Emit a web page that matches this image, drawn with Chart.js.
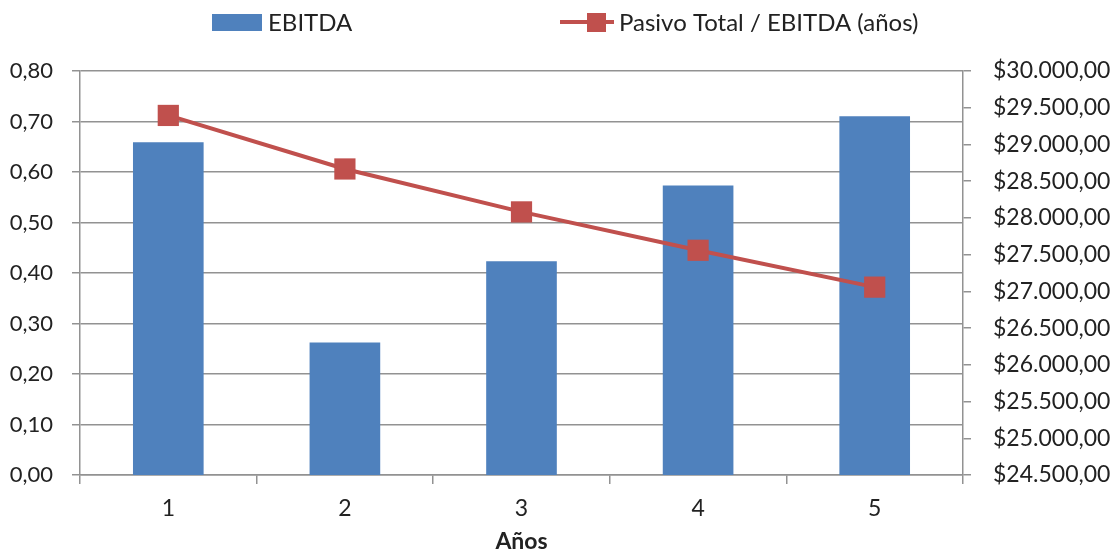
<!DOCTYPE html>
<html>
<head>
    <meta charset="utf-8">
    <title>EBITDA y Pasivo Total / EBITDA</title>
    <style>
        body {
            margin: 0;
            background: #fff;
        }
        #chart {
            display: block;
        }
    </style>
</head>
<body>
    <canvas id="chart" width="1119" height="552"></canvas>
    <script src="https://cdn.jsdelivr.net/npm/chart.js"></script>
    <script>
        // Data
        const years = ['1', '2', '3', '4', '5'];
        const ebitda = [29030, 26305, 27410, 28440, 29385];
        const pasivoSobreEbitda = [0.712, 0.606, 0.521, 0.445, 0.372];

        // Axis ranges: [min, max, step]
        const ratioAxis = [0, 0.8, 0.1];
        const moneyAxis = [24500, 30000, 500];

        const gridColor = '#929292';
        const textColor = '#222';
        const fontFamily = 'Lato, "Open Sans", sans-serif';

        function ratioLabel(v) {
            return v.toFixed(2).replace('.', ',');
        }

        function moneyLabel(v) {
            const parts = v.toFixed(2).split('.');
            return '$' + parts[0].replace(/\B(?=(\d{3})+(?!\d))/g, '.') + ',' + parts[1];
        }

        // legend on top: bar swatch and line+marker swatch
        const topLegend = {
            id: 'topLegend',
            afterDraw(chart) {
                const ctx = chart.ctx;
                const bar = chart.data.datasets[0];
                const line = chart.data.datasets[1];
                ctx.save();
                ctx.font = '24px ' + fontFamily;
                ctx.textBaseline = 'middle';

                ctx.fillStyle = bar.backgroundColor;
                ctx.fillRect(212, 14, 50, 17);
                ctx.fillStyle = textColor;
                ctx.fillText(bar.label, 268, 23);

                ctx.strokeStyle = line.borderColor;
                ctx.lineWidth = 4;
                ctx.beginPath();
                ctx.moveTo(560, 22);
                ctx.lineTo(614, 22);
                ctx.stroke();
                ctx.fillStyle = line.borderColor;
                ctx.fillRect(587, 13, 19, 19);
                ctx.fillStyle = textColor;
                ctx.fillText(line.label, 619, 23);
                ctx.restore();
            }
        };

        const ctx = document.getElementById('chart').getContext('2d');
        const chart = new Chart(ctx, {
            type: 'bar',
            data: {
                labels: years,
                datasets: [{
                    type: 'bar',
                    label: 'EBITDA',
                    data: ebitda,
                    yAxisID: 'y1',
                    backgroundColor: '#4F81BD',
                    barPercentage: 0.4,
                    categoryPercentage: 1,
                    order: 1
                }, {
                    type: 'line',
                    label: 'Pasivo Total / EBITDA (años)',
                    data: pasivoSobreEbitda,
                    yAxisID: 'y',
                    borderColor: '#C0504D',
                    backgroundColor: '#C0504D',
                    borderWidth: 4,
                    pointStyle: 'rect',
                    pointRadius: 15,
                    pointHoverRadius: 15,
                    pointBorderWidth: 0,
                    tension: 0,
                    order: 0
                }]
            },
            options: {
                responsive: false,
                animation: false,
                layout: {
                    padding: { top: 71, left: 0, right: 0, bottom: 0 }
                },
                plugins: {
                    legend: { display: false },
                    tooltip: { enabled: false }
                },
                scales: {
                    x: {
                        offset: true,
                        grid: {
                            offset: true,
                            drawOnChartArea: false,
                            tickLength: 9,
                            color: gridColor,
                            lineWidth: 1.5
                        },
                        border: { color: gridColor, width: 1.5 },
                        ticks: {
                            color: textColor,
                            font: { family: fontFamily, size: 23 },
                            padding: 11
                        },
                        title: {
                            display: true,
                            text: 'Años',
                            color: textColor,
                            font: { family: fontFamily, size: 23, weight: 'bold' },
                            padding: { top: 0, bottom: -3 }
                        },
                        afterFit(scale) { scale.height = 77; }
                    },
                    y: {
                        position: 'left',
                        min: ratioAxis[0],
                        max: ratioAxis[1],
                        grid: {
                            color: gridColor,
                            lineWidth: 1.5,
                            tickLength: 8
                        },
                        border: { color: gridColor, width: 1.5 },
                        ticks: {
                            stepSize: ratioAxis[2],
                            color: textColor,
                            font: { family: fontFamily, size: 22 },
                            padding: 19,
                            callback: (v) => ratioLabel(v)
                        },
                        afterFit(scale) { scale.width = 80; }
                    },
                    y1: {
                        position: 'right',
                        min: moneyAxis[0],
                        max: moneyAxis[1],
                        grid: {
                            drawOnChartArea: false,
                            color: gridColor,
                            lineWidth: 1.5,
                            tickLength: 8
                        },
                        border: { color: gridColor, width: 1.5 },
                        ticks: {
                            stepSize: moneyAxis[2],
                            color: textColor,
                            font: { family: fontFamily, size: 23 },
                            padding: 22,
                            callback: (v) => moneyLabel(v)
                        },
                        afterFit(scale) { scale.width = 156; }
                    }
                }
            },
            plugins: [topLegend]
        });
    </script>
</body>
</html>
